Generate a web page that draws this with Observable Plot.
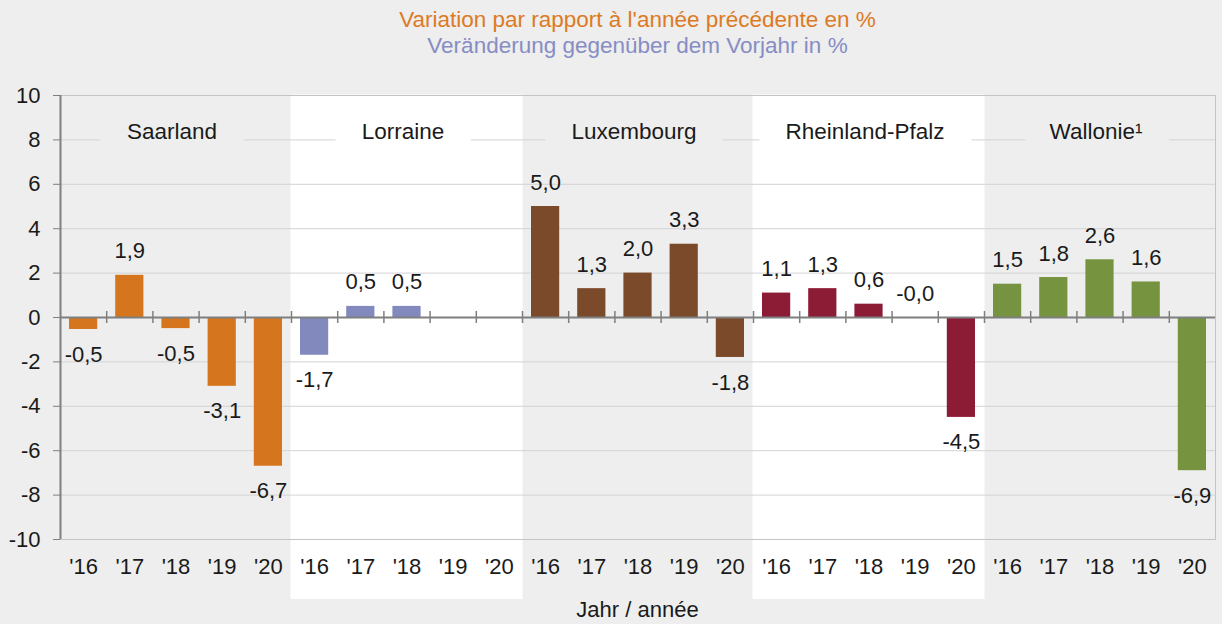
<!DOCTYPE html>
<html>
<head>
<meta charset="utf-8">
<script src="https://cdn.jsdelivr.net/npm/d3@7"></script>
<script src="https://cdn.jsdelivr.net/npm/@observablehq/plot@0.6"></script>
<style>
  html, body { margin: 0; padding: 0; background: #edeeed; }
  body { width: 1222px; height: 624px; overflow: hidden; font-family: "Liberation Sans", Arial, sans-serif; }
  #title { height: 60px; box-sizing: border-box; padding: 7px 7px 0 60px; text-align: center; font-size: 22.5px; line-height: 26px; }
  #t1 { color: #dd7a26; }
  #t2 { color: #878dc4; }
  #xlabel { box-sizing: border-box; padding: 0 7px 0 60px; text-align: center; font-size: 22px; line-height: 22px; color: #1a1a1a; }
  svg { display: block; }
</style>
</head>
<body>
<div id="title"><div id="t1">Variation par rapport à l'année précédente en %</div><div id="t2">Veränderung gegenüber dem Vorjahr in %</div></div>
<div id="chart"></div>
<div id="xlabel">Jahr / année</div>
<script>
// ---- data ----
const groups = ["Saarland", "Lorraine", "Luxembourg", "Rheinland-Pfalz", "Wallonie"];
const groupLabels = ["Saarland", "Lorraine", "Luxembourg", "Rheinland-Pfalz", "Wallonie¹"];
const years = ["'16", "'17", "'18", "'19", "'20"];
const saarland = [-0.54, 1.9, -0.5, -3.1, -6.7];
const lorraine = [-1.7, 0.5, 0.5, null, null];
const luxembourg = [5.0, 1.3, 2.0, 3.3, -1.8];
const rheinlandPfalz = [1.1, 1.3, 0.6, -0.0, -4.5];
const wallonie = [1.5, 1.8, 2.6, 1.6, -6.9];
const colors = ["#d5761f", "#8289bd", "#7b4a2b", "#8c1b36", "#76933f"];
const bandFill = ["#edeeed", "#ffffff", "#edeeed", "#ffffff", "#edeeed"];
const yTicks = [-10, -8, -6, -4, -2, 0, 2, 4, 6, 8, 10];

// ---- layout ----
const W = 1222, H = 539, ML = 60, MR = 7, MT = 35, MB = 60;
const bw = (W - ML - MR) / 25;
const bandBottom = -12.7;
const groupLabelY = 8.35;

const series = [saarland, lorraine, luxembourg, rheinlandPfalz, wallonie];
const rows = [];
groups.forEach((g, gi) => years.forEach((yr, yi) => {
  rows.push({key: gi + "-" + yi, group: g, gi, yi, year: yr, value: series[gi][yi], color: colors[gi], bg: bandFill[gi]});
}));
const keys = rows.map(d => d.key);
const valued = rows.filter(d => d.value != null);
const fmt = v => ((v < 0 || Object.is(v, -0)) ? "-" : "") + Math.abs(v).toFixed(1).replace(".", ",");
const labelRows = groups.map((g, gi) => ({key: gi + "-2", label: groupLabels[gi], bg: bandFill[gi]}));

const dark = "#7f7f7f";
const chart = Plot.plot({
  width: W, height: H,
  marginLeft: ML, marginRight: MR, marginTop: MT, marginBottom: MB,
  style: {fontFamily: "'Liberation Sans', Arial, sans-serif", fontSize: "22px", background: "transparent", color: "#1a1a1a"},
  x: {domain: keys, padding: 0, round: false, axis: null},
  y: {domain: [-10, 10], axis: null},
  color: {type: "identity"},
  marks: [
    // white band columns
    Plot.barY(rows.filter(d => d.bg === "#ffffff"), {x: "key", y1: 10, y2: bandBottom, fill: "#ffffff", stroke: "#ffffff", strokeWidth: 1}),
    // gridlines
    Plot.ruleY(yTicks.filter(t => t !== 0 && t !== 10), {stroke: "#d3d3d3", strokeWidth: 1}),
    // group labels with background halo
    Plot.text(labelRows, {x: "key", dx: -4, y: groupLabelY, text: "label", fill: "#1a1a1a", stroke: "bg", strokeWidth: 56, strokeLinejoin: "round", paintOrder: "stroke", fontSize: 22.5}),
    // frame
    Plot.frame({stroke: "#c4c4c4", strokeWidth: 1}),
    // bars
    Plot.barY(valued, {x: "key", y: "value", fill: "color", insetLeft: 9, insetRight: 9}),
    // value labels
    Plot.text(valued.filter(d => !(d.value < 0)), {x: "key", y: "value", text: d => fmt(d.value), dy: -24, fill: "#1a1a1a"}),
    Plot.text(valued.filter(d => d.value < 0), {x: "key", y: "value", text: d => fmt(d.value), dy: 25, fill: "#1a1a1a"}),
    // zero line and category ticks
    Plot.ruleY([0], {stroke: dark, strokeWidth: 2}),
    Plot.ruleX(keys.slice(1), {y1: -0.27, y2: 0.27, dx: -bw / 2, stroke: dark, strokeWidth: 1.5}),
    // y axis line
    Plot.ruleX([keys[0]], {dx: -bw / 2, stroke: dark, strokeWidth: 2}),
    Plot.axisY({ticks: yTicks, tickSize: 7, tickPadding: 13, tickFormat: d => String(d), stroke: dark, label: null, fill: "#1a1a1a"}),
    Plot.axisX({tickSize: 0, tickPadding: 19, tickFormat: k => years[+k.split("-")[1]], label: null, fill: "#1a1a1a"})
  ]
});
document.getElementById("chart").appendChild(chart);
</script>
</body>
</html>
